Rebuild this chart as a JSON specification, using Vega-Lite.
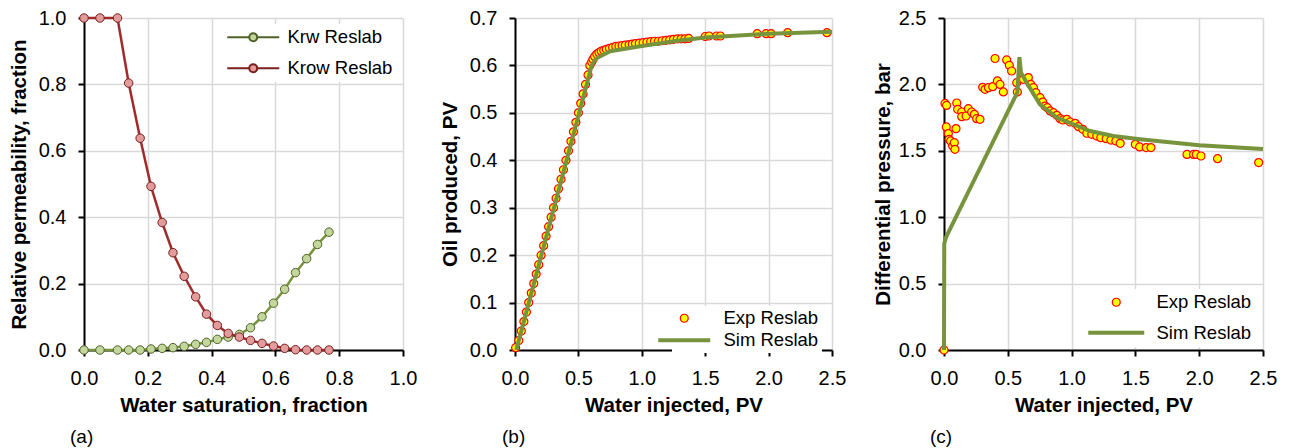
{
  "$schema": "https://vega.github.io/schema/vega-lite/v6.json",
  "background": "white",
  "padding": {"left": 9, "top": 8, "right": 0, "bottom": 0},
  "config": {
    "font": "Liberation Sans",
    "view": {"stroke": null},
    "axis": {
      "domainColor": "#000000", "domainWidth": 2, "tickColor": "#000000", "tickWidth": 2, "tickSize": 6,
      "gridColor": "#D9D9D9", "gridWidth": 1.5,
      "labelFont": "Liberation Sans", "labelFontSize": 20, "labelColor": "#000000",
      "titleFont": "Liberation Sans", "titleFontSize": 20.5, "titleFontWeight": "bold", "titleColor": "#000000",
      "labelFlush": false, "labelOverlap": false
    },
    "axisX": {"labelPadding": 12, "titlePadding": 7},
    "axisY": {"labelPadding": 12, "titlePadding": 6},
    "legend": {"labelFont": "Liberation Sans", "labelFontSize": 18.5, "labelColor": "#000000"},
    "title": {"font": "Liberation Sans", "fontSize": 19, "fontWeight": "normal", "color": "#000000"}
  },
  "resolve": {
    "scale": {"x": "independent", "y": "independent", "color": "independent", "fill": "independent", "stroke": "independent", "shape": "independent", "strokeWidth": "independent"},
    "legend": {"color": "independent", "fill": "independent", "stroke": "independent", "shape": "independent", "strokeWidth": "independent"}
  },
  "datasets": {
    "a": [
      {"sw": 0, "kr": 0, "s": "Krw Reslab"}, {"sw": 0.05, "kr": 0, "s": "Krw Reslab"}, {"sw": 0.105, "kr": 0, "s": "Krw Reslab"},
      {"sw": 0.14, "kr": 0, "s": "Krw Reslab"}, {"sw": 0.176, "kr": 0, "s": "Krw Reslab"}, {"sw": 0.21, "kr": 0.003, "s": "Krw Reslab"},
      {"sw": 0.245, "kr": 0.005, "s": "Krw Reslab"}, {"sw": 0.279, "kr": 0.007, "s": "Krw Reslab"}, {"sw": 0.314, "kr": 0.011, "s": "Krw Reslab"},
      {"sw": 0.35, "kr": 0.017, "s": "Krw Reslab"}, {"sw": 0.384, "kr": 0.023, "s": "Krw Reslab"}, {"sw": 0.418, "kr": 0.032, "s": "Krw Reslab"},
      {"sw": 0.452, "kr": 0.039, "s": "Krw Reslab"}, {"sw": 0.487, "kr": 0.047, "s": "Krw Reslab"}, {"sw": 0.522, "kr": 0.067, "s": "Krw Reslab"},
      {"sw": 0.558, "kr": 0.1, "s": "Krw Reslab"}, {"sw": 0.594, "kr": 0.141, "s": "Krw Reslab"}, {"sw": 0.629, "kr": 0.183, "s": "Krw Reslab"},
      {"sw": 0.663, "kr": 0.233, "s": "Krw Reslab"}, {"sw": 0.698, "kr": 0.275, "s": "Krw Reslab"}, {"sw": 0.732, "kr": 0.318, "s": "Krw Reslab"},
      {"sw": 0.768, "kr": 0.355, "s": "Krw Reslab"},
      {"sw": 0, "kr": 1, "s": "Krow Reslab"}, {"sw": 0.05, "kr": 1, "s": "Krow Reslab"}, {"sw": 0.105, "kr": 1, "s": "Krow Reslab"},
      {"sw": 0.14, "kr": 0.804, "s": "Krow Reslab"}, {"sw": 0.176, "kr": 0.638, "s": "Krow Reslab"}, {"sw": 0.21, "kr": 0.493, "s": "Krow Reslab"},
      {"sw": 0.245, "kr": 0.384, "s": "Krow Reslab"}, {"sw": 0.279, "kr": 0.293, "s": "Krow Reslab"}, {"sw": 0.314, "kr": 0.222, "s": "Krow Reslab"},
      {"sw": 0.35, "kr": 0.16, "s": "Krow Reslab"}, {"sw": 0.384, "kr": 0.108, "s": "Krow Reslab"}, {"sw": 0.418, "kr": 0.074, "s": "Krow Reslab"},
      {"sw": 0.452, "kr": 0.05, "s": "Krow Reslab"}, {"sw": 0.487, "kr": 0.039, "s": "Krow Reslab"}, {"sw": 0.522, "kr": 0.029, "s": "Krow Reslab"},
      {"sw": 0.558, "kr": 0.02, "s": "Krow Reslab"}, {"sw": 0.594, "kr": 0.012, "s": "Krow Reslab"}, {"sw": 0.629, "kr": 0.005, "s": "Krow Reslab"},
      {"sw": 0.663, "kr": 0.001, "s": "Krow Reslab"}, {"sw": 0.698, "kr": 0, "s": "Krow Reslab"}, {"sw": 0.732, "kr": 0, "s": "Krow Reslab"},
      {"sw": 0.768, "kr": 0, "s": "Krow Reslab"}
    ],
    "b": [
      {"wi": 0.005, "op": 0.005, "s": "Exp Reslab"}, {"wi": 0.03, "op": 0.02, "s": "Exp Reslab"}, {"wi": 0.05, "op": 0.04, "s": "Exp Reslab"},
      {"wi": 0.07, "op": 0.06, "s": "Exp Reslab"}, {"wi": 0.09, "op": 0.08, "s": "Exp Reslab"}, {"wi": 0.108, "op": 0.1, "s": "Exp Reslab"},
      {"wi": 0.128, "op": 0.12, "s": "Exp Reslab"}, {"wi": 0.148, "op": 0.14, "s": "Exp Reslab"}, {"wi": 0.167, "op": 0.16, "s": "Exp Reslab"},
      {"wi": 0.187, "op": 0.18, "s": "Exp Reslab"}, {"wi": 0.206, "op": 0.2, "s": "Exp Reslab"}, {"wi": 0.226, "op": 0.22, "s": "Exp Reslab"},
      {"wi": 0.245, "op": 0.24, "s": "Exp Reslab"}, {"wi": 0.265, "op": 0.26, "s": "Exp Reslab"}, {"wi": 0.285, "op": 0.28, "s": "Exp Reslab"},
      {"wi": 0.304, "op": 0.3, "s": "Exp Reslab"}, {"wi": 0.324, "op": 0.32, "s": "Exp Reslab"}, {"wi": 0.343, "op": 0.34, "s": "Exp Reslab"},
      {"wi": 0.363, "op": 0.36, "s": "Exp Reslab"}, {"wi": 0.382, "op": 0.38, "s": "Exp Reslab"}, {"wi": 0.402, "op": 0.4, "s": "Exp Reslab"},
      {"wi": 0.422, "op": 0.42, "s": "Exp Reslab"}, {"wi": 0.441, "op": 0.44, "s": "Exp Reslab"}, {"wi": 0.461, "op": 0.46, "s": "Exp Reslab"},
      {"wi": 0.48, "op": 0.48, "s": "Exp Reslab"}, {"wi": 0.5, "op": 0.5, "s": "Exp Reslab"}, {"wi": 0.518, "op": 0.52, "s": "Exp Reslab"},
      {"wi": 0.537, "op": 0.54, "s": "Exp Reslab"}, {"wi": 0.556, "op": 0.56, "s": "Exp Reslab"}, {"wi": 0.576, "op": 0.58, "s": "Exp Reslab"},
      {"wi": 0.59, "op": 0.6, "s": "Exp Reslab"}, {"wi": 0.605, "op": 0.607, "s": "Exp Reslab"}, {"wi": 0.615, "op": 0.613, "s": "Exp Reslab"},
      {"wi": 0.628, "op": 0.619, "s": "Exp Reslab"}, {"wi": 0.645, "op": 0.624, "s": "Exp Reslab"}, {"wi": 0.662, "op": 0.627, "s": "Exp Reslab"},
      {"wi": 0.68, "op": 0.63, "s": "Exp Reslab"}, {"wi": 0.7, "op": 0.632, "s": "Exp Reslab"}, {"wi": 0.72, "op": 0.634, "s": "Exp Reslab"},
      {"wi": 0.745, "op": 0.636, "s": "Exp Reslab"}, {"wi": 0.77, "op": 0.638, "s": "Exp Reslab"}, {"wi": 0.795, "op": 0.64, "s": "Exp Reslab"},
      {"wi": 0.82, "op": 0.641, "s": "Exp Reslab"}, {"wi": 0.845, "op": 0.642, "s": "Exp Reslab"}, {"wi": 0.87, "op": 0.643, "s": "Exp Reslab"},
      {"wi": 0.9, "op": 0.644, "s": "Exp Reslab"}, {"wi": 0.925, "op": 0.645, "s": "Exp Reslab"}, {"wi": 0.95, "op": 0.646, "s": "Exp Reslab"},
      {"wi": 0.98, "op": 0.647, "s": "Exp Reslab"}, {"wi": 1.01, "op": 0.648, "s": "Exp Reslab"}, {"wi": 1.04, "op": 0.649, "s": "Exp Reslab"},
      {"wi": 1.07, "op": 0.65, "s": "Exp Reslab"}, {"wi": 1.1, "op": 0.651, "s": "Exp Reslab"}, {"wi": 1.13, "op": 0.651, "s": "Exp Reslab"},
      {"wi": 1.16, "op": 0.652, "s": "Exp Reslab"}, {"wi": 1.19, "op": 0.653, "s": "Exp Reslab"}, {"wi": 1.22, "op": 0.654, "s": "Exp Reslab"},
      {"wi": 1.25, "op": 0.655, "s": "Exp Reslab"}, {"wi": 1.28, "op": 0.656, "s": "Exp Reslab"}, {"wi": 1.31, "op": 0.656, "s": "Exp Reslab"},
      {"wi": 1.34, "op": 0.656, "s": "Exp Reslab"}, {"wi": 1.37, "op": 0.657, "s": "Exp Reslab"}, {"wi": 1.5, "op": 0.661, "s": "Exp Reslab"},
      {"wi": 1.53, "op": 0.662, "s": "Exp Reslab"}, {"wi": 1.59, "op": 0.662, "s": "Exp Reslab"}, {"wi": 1.62, "op": 0.662, "s": "Exp Reslab"},
      {"wi": 1.91, "op": 0.667, "s": "Exp Reslab"}, {"wi": 1.98, "op": 0.667, "s": "Exp Reslab"}, {"wi": 2.02, "op": 0.667, "s": "Exp Reslab"},
      {"wi": 2.15, "op": 0.669, "s": "Exp Reslab"}, {"wi": 2.46, "op": 0.669, "s": "Exp Reslab"},
      {"wi": 0.01, "op": 0, "s": "Sim Reslab"}, {"wi": 0.605, "op": 0.6, "s": "Sim Reslab"}, {"wi": 0.625, "op": 0.61, "s": "Sim Reslab"},
      {"wi": 0.65, "op": 0.616, "s": "Sim Reslab"}, {"wi": 0.75, "op": 0.63, "s": "Sim Reslab"}, {"wi": 1.0, "op": 0.641, "s": "Sim Reslab"},
      {"wi": 1.25, "op": 0.651, "s": "Sim Reslab"}, {"wi": 1.5, "op": 0.659, "s": "Sim Reslab"}, {"wi": 2.0, "op": 0.667, "s": "Sim Reslab"},
      {"wi": 2.5, "op": 0.671, "s": "Sim Reslab"}
    ],
    "c": [
      {"wi": 0, "dp": 0, "s": "Exp Reslab"}, {"wi": 0.008, "dp": 1.857, "s": "Exp Reslab"}, {"wi": 0.02, "dp": 1.842, "s": "Exp Reslab"},
      {"wi": 0.018, "dp": 1.68, "s": "Exp Reslab"}, {"wi": 0.034, "dp": 1.63, "s": "Exp Reslab"}, {"wi": 0.04, "dp": 1.586, "s": "Exp Reslab"},
      {"wi": 0.052, "dp": 1.574, "s": "Exp Reslab"}, {"wi": 0.068, "dp": 1.536, "s": "Exp Reslab"}, {"wi": 0.081, "dp": 1.561, "s": "Exp Reslab"},
      {"wi": 0.086, "dp": 1.511, "s": "Exp Reslab"}, {"wi": 0.094, "dp": 1.667, "s": "Exp Reslab"}, {"wi": 0.1, "dp": 1.86, "s": "Exp Reslab"},
      {"wi": 0.107, "dp": 1.812, "s": "Exp Reslab"}, {"wi": 0.139, "dp": 1.792, "s": "Exp Reslab"}, {"wi": 0.139, "dp": 1.757, "s": "Exp Reslab"},
      {"wi": 0.173, "dp": 1.762, "s": "Exp Reslab"}, {"wi": 0.191, "dp": 1.817, "s": "Exp Reslab"}, {"wi": 0.217, "dp": 1.792, "s": "Exp Reslab"},
      {"wi": 0.238, "dp": 1.775, "s": "Exp Reslab"}, {"wi": 0.256, "dp": 1.742, "s": "Exp Reslab"}, {"wi": 0.282, "dp": 1.737, "s": "Exp Reslab"},
      {"wi": 0.303, "dp": 1.978, "s": "Exp Reslab"}, {"wi": 0.322, "dp": 1.963, "s": "Exp Reslab"}, {"wi": 0.348, "dp": 1.975, "s": "Exp Reslab"},
      {"wi": 0.382, "dp": 1.983, "s": "Exp Reslab"}, {"wi": 0.4, "dp": 2.195, "s": "Exp Reslab"}, {"wi": 0.418, "dp": 2.026, "s": "Exp Reslab"},
      {"wi": 0.439, "dp": 2.0, "s": "Exp Reslab"}, {"wi": 0.465, "dp": 1.943, "s": "Exp Reslab"}, {"wi": 0.491, "dp": 2.184, "s": "Exp Reslab"},
      {"wi": 0.512, "dp": 2.144, "s": "Exp Reslab"}, {"wi": 0.53, "dp": 2.101, "s": "Exp Reslab"}, {"wi": 0.57, "dp": 2.013, "s": "Exp Reslab"},
      {"wi": 0.575, "dp": 1.943, "s": "Exp Reslab"}, {"wi": 0.622, "dp": 2.038, "s": "Exp Reslab"}, {"wi": 0.661, "dp": 2.051, "s": "Exp Reslab"},
      {"wi": 0.68, "dp": 2.0, "s": "Exp Reslab"}, {"wi": 0.701, "dp": 1.975, "s": "Exp Reslab"}, {"wi": 0.72, "dp": 1.938, "s": "Exp Reslab"},
      {"wi": 0.753, "dp": 1.9, "s": "Exp Reslab"}, {"wi": 0.774, "dp": 1.867, "s": "Exp Reslab"}, {"wi": 0.792, "dp": 1.837, "s": "Exp Reslab"},
      {"wi": 0.81, "dp": 1.825, "s": "Exp Reslab"}, {"wi": 0.832, "dp": 1.8, "s": "Exp Reslab"}, {"wi": 0.858, "dp": 1.787, "s": "Exp Reslab"},
      {"wi": 0.884, "dp": 1.767, "s": "Exp Reslab"}, {"wi": 0.91, "dp": 1.742, "s": "Exp Reslab"}, {"wi": 0.931, "dp": 1.732, "s": "Exp Reslab"},
      {"wi": 0.962, "dp": 1.737, "s": "Exp Reslab"}, {"wi": 0.988, "dp": 1.717, "s": "Exp Reslab"}, {"wi": 1.028, "dp": 1.707, "s": "Exp Reslab"},
      {"wi": 1.054, "dp": 1.682, "s": "Exp Reslab"}, {"wi": 1.088, "dp": 1.662, "s": "Exp Reslab"}, {"wi": 1.119, "dp": 1.632, "s": "Exp Reslab"},
      {"wi": 1.158, "dp": 1.624, "s": "Exp Reslab"}, {"wi": 1.197, "dp": 1.611, "s": "Exp Reslab"}, {"wi": 1.229, "dp": 1.599, "s": "Exp Reslab"},
      {"wi": 1.271, "dp": 1.591, "s": "Exp Reslab"}, {"wi": 1.308, "dp": 1.581, "s": "Exp Reslab"}, {"wi": 1.347, "dp": 1.574, "s": "Exp Reslab"},
      {"wi": 1.381, "dp": 1.556, "s": "Exp Reslab"}, {"wi": 1.499, "dp": 1.549, "s": "Exp Reslab"}, {"wi": 1.533, "dp": 1.529, "s": "Exp Reslab"},
      {"wi": 1.585, "dp": 1.524, "s": "Exp Reslab"}, {"wi": 1.622, "dp": 1.524, "s": "Exp Reslab"}, {"wi": 1.904, "dp": 1.473, "s": "Exp Reslab"},
      {"wi": 1.956, "dp": 1.473, "s": "Exp Reslab"}, {"wi": 1.977, "dp": 1.473, "s": "Exp Reslab"}, {"wi": 2.014, "dp": 1.461, "s": "Exp Reslab"},
      {"wi": 2.144, "dp": 1.441, "s": "Exp Reslab"}, {"wi": 2.466, "dp": 1.411, "s": "Exp Reslab"},
      {"wi": 0, "dp": 0, "s": "Sim Reslab"}, {"wi": 0.002, "dp": 0.8, "s": "Sim Reslab"}, {"wi": 0.016, "dp": 0.85, "s": "Sim Reslab"},
      {"wi": 0.575, "dp": 1.94, "s": "Sim Reslab"}, {"wi": 0.591, "dp": 2.205, "s": "Sim Reslab"}, {"wi": 0.603, "dp": 2.09, "s": "Sim Reslab"},
      {"wi": 0.648, "dp": 2.013, "s": "Sim Reslab"}, {"wi": 0.752, "dp": 1.85, "s": "Sim Reslab"}, {"wi": 0.883, "dp": 1.75, "s": "Sim Reslab"},
      {"wi": 1.013, "dp": 1.7, "s": "Sim Reslab"}, {"wi": 1.144, "dp": 1.649, "s": "Sim Reslab"}, {"wi": 1.327, "dp": 1.611, "s": "Sim Reslab"},
      {"wi": 1.536, "dp": 1.587, "s": "Sim Reslab"}, {"wi": 2.0, "dp": 1.541, "s": "Sim Reslab"}, {"wi": 2.5, "dp": 1.513, "s": "Sim Reslab"}
    ]
  },
  "bounds": "flush",
  "spacing": 112,
  "hconcat": [
    {
      "width": 319, "height": 332,
      "title": {"text": "(a)", "orient": "bottom", "anchor": "start", "frame": "group", "dx": -14, "offset": 12},
      "data": {"name": "a"},
      "encoding": {
        "x": {"field": "sw", "type": "quantitative", "scale": {"domain": [0, 1], "nice": false}, "axis": {"values": [0, 0.2, 0.4, 0.6, 0.8, 1.0], "format": ".1f", "title": "Water saturation, fraction"}},
        "y": {"field": "kr", "type": "quantitative", "scale": {"domain": [0, 1], "nice": false}, "axis": {"values": [0, 0.2, 0.4, 0.6, 0.8, 1.0], "format": ".1f", "title": "Relative permeability, fraction", "titlePadding": 9}}
      },
      "layer": [
        {
          "transform": [{"filter": "datum.s === 'Krw Reslab'"}],
          "mark": {"type": "line", "strokeWidth": 2.5, "color": "#77933C"},
          "encoding": {}
        },
        {
          "transform": [{"filter": "datum.s === 'Krow Reslab'"}],
          "mark": {"type": "line", "strokeWidth": 2.5, "color": "#A12B2B"},
          "encoding": {}
        },
        {
          "mark": {"type": "point", "filled": true, "size": 72, "strokeWidth": 1, "opacity": 1},
          "encoding": {
            "fill": {"field": "s", "type": "nominal", "scale": {"domain": ["Krw Reslab", "Krow Reslab"], "range": ["#C3D69B", "#E39C9C"]},
              "legend": {"title": null, "orient": "top-right", "offset": 6, "padding": 4, "fillColor": "white", "symbolType": "M-6.5,0H-1M1,0H6.5M1,0A1,1 0 1,1 -1,0A1,1 0 1,1 1,0Z", "symbolSize": 64, "symbolStrokeWidth": 2, "labelOffset": 25, "rowPadding": 12}},
            "stroke": {"field": "s", "type": "nominal", "scale": {"domain": ["Krw Reslab", "Krow Reslab"], "range": ["#4F6228", "#7A1E1E"]},
              "legend": {"title": null, "orient": "top-right", "offset": 6, "padding": 4, "fillColor": "white", "symbolType": "M-6.5,0H-1M1,0H6.5M1,0A1,1 0 1,1 -1,0A1,1 0 1,1 1,0Z", "symbolSize": 64, "symbolStrokeWidth": 2, "labelOffset": 25, "rowPadding": 12}}
          }
        }
      ]
    },
    {
      "width": 317, "height": 332,
      "title": {"text": "(b)", "orient": "bottom", "anchor": "start", "frame": "group", "dx": -13, "offset": 12},
      "data": {"name": "b"},
      "encoding": {
        "x": {"field": "wi", "type": "quantitative", "scale": {"domain": [0, 2.5], "nice": false}, "axis": {"values": [0, 0.5, 1.0, 1.5, 2.0, 2.5], "format": ".1f", "title": "Water injected, PV"}},
        "y": {"field": "op", "type": "quantitative", "scale": {"domain": [0, 0.7], "nice": false}, "axis": {"values": [0, 0.1, 0.2, 0.3, 0.4, 0.5, 0.6, 0.7], "format": ".1f", "title": "Oil produced, PV", "titlePadding": 9}}
      },
      "layer": [
        {
          "transform": [{"filter": "datum.s === 'Exp Reslab'"}],
          "mark": {"type": "point", "filled": true, "size": 64, "opacity": 1},
          "encoding": {
            "fill": {"field": "s", "type": "nominal", "scale": {"domain": ["Exp Reslab", "Sim Reslab"], "range": ["#FFFF00", "transparent"]},
              "legend": {"title": null, "orient": "none", "legendX": 157, "legendY": 288, "padding": 3, "fillColor": "white", "symbolSize": 64, "labelOffset": 30, "rowPadding": 3}},
            "stroke": {"field": "s", "type": "nominal", "scale": {"domain": ["Exp Reslab", "Sim Reslab"], "range": ["#FF0000", "#77933C"]},
              "legend": {"title": null, "orient": "none", "legendX": 157, "legendY": 288, "padding": 3, "fillColor": "white", "symbolSize": 64, "labelOffset": 30, "rowPadding": 3}},
            "shape": {"field": "s", "type": "nominal", "scale": {"domain": ["Exp Reslab", "Sim Reslab"], "range": ["circle", "M-6.5,0H6.5"]},
              "legend": {"title": null, "orient": "none", "legendX": 157, "legendY": 288, "padding": 3, "fillColor": "white", "symbolSize": 64, "labelOffset": 30, "rowPadding": 3}},
            "strokeWidth": {"field": "s", "type": "nominal", "scale": {"domain": ["Exp Reslab", "Sim Reslab"], "range": [1.2, 4]},
              "legend": {"title": null, "orient": "none", "legendX": 157, "legendY": 288, "padding": 3, "fillColor": "white", "symbolSize": 64, "labelOffset": 30, "rowPadding": 3}}
          }
        },
        {
          "transform": [{"filter": "datum.s === 'Sim Reslab'"}],
          "mark": {"type": "line", "strokeWidth": 4, "color": "#77933C"},
          "encoding": {"order": {"value": null}}
        }
      ]
    },
    {
      "width": 319, "height": 332,
      "title": {"text": "(c)", "orient": "bottom", "anchor": "start", "frame": "group", "dx": -14, "offset": 12},
      "data": {"name": "c"},
      "encoding": {
        "x": {"field": "wi", "type": "quantitative", "scale": {"domain": [0, 2.5], "nice": false}, "axis": {"values": [0, 0.5, 1.0, 1.5, 2.0, 2.5], "format": ".1f", "title": "Water injected, PV"}},
        "y": {"field": "dp", "type": "quantitative", "scale": {"domain": [0, 2.5], "nice": false}, "axis": {"values": [0, 0.5, 1.0, 1.5, 2.0, 2.5], "format": ".1f", "title": "Differential pressure, bar", "titlePadding": 5}}
      },
      "layer": [
        {
          "transform": [{"filter": "datum.s === 'Exp Reslab'"}],
          "mark": {"type": "point", "filled": true, "size": 64, "opacity": 1},
          "encoding": {
            "fill": {"field": "s", "type": "nominal", "scale": {"domain": ["Exp Reslab", "Sim Reslab"], "range": ["#FFFF00", "transparent"]},
              "legend": {"title": null, "orient": "none", "legendX": 159, "legendY": 271, "padding": 4, "fillColor": "white", "symbolSize": 64, "labelOffset": 31, "rowPadding": 11.5}},
            "stroke": {"field": "s", "type": "nominal", "scale": {"domain": ["Exp Reslab", "Sim Reslab"], "range": ["#FF0000", "#77933C"]},
              "legend": {"title": null, "orient": "none", "legendX": 159, "legendY": 271, "padding": 4, "fillColor": "white", "symbolSize": 64, "labelOffset": 31, "rowPadding": 11.5}},
            "shape": {"field": "s", "type": "nominal", "scale": {"domain": ["Exp Reslab", "Sim Reslab"], "range": ["circle", "M-7,0H7"]},
              "legend": {"title": null, "orient": "none", "legendX": 159, "legendY": 271, "padding": 4, "fillColor": "white", "symbolSize": 64, "labelOffset": 31, "rowPadding": 11.5}},
            "strokeWidth": {"field": "s", "type": "nominal", "scale": {"domain": ["Exp Reslab", "Sim Reslab"], "range": [1.2, 4]},
              "legend": {"title": null, "orient": "none", "legendX": 159, "legendY": 271, "padding": 4, "fillColor": "white", "symbolSize": 64, "labelOffset": 31, "rowPadding": 11.5}}
          }
        },
        {
          "transform": [{"filter": "datum.s === 'Sim Reslab'"}],
          "mark": {"type": "line", "strokeWidth": 4, "color": "#77933C"},
          "encoding": {"order": {"value": null}}
        }
      ]
    }
  ]
}
